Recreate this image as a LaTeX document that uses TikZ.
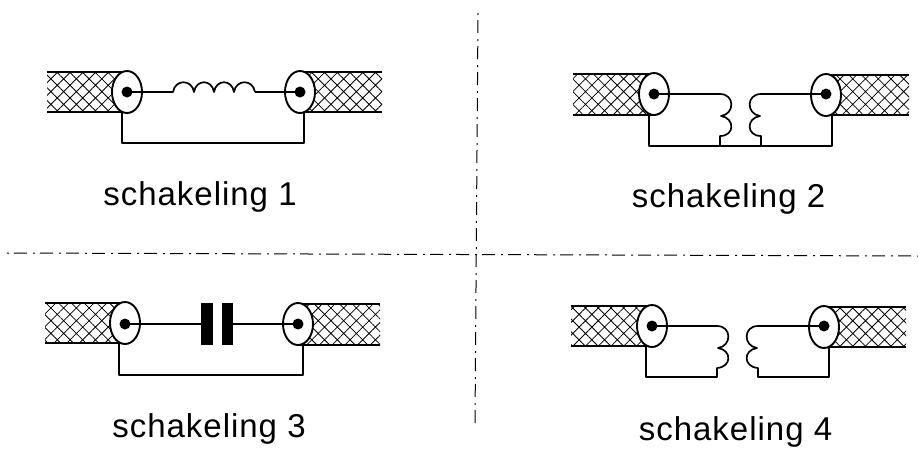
\documentclass[tikz,border=0pt]{standalone}
\usepackage{fontspec}
\setmainfont[LetterSpace=3]{Liberation Sans}
\usetikzlibrary{shapes.geometric}
\usetikzlibrary{patterns.meta}
\tikzset{
  wire/.style={line width=1.7pt, line join=round},
  braid/.style={pattern={Hatch[angle=45,distance=9pt,line width=0.8pt]}},
  jacket/.style={ellipse, draw, fill=white, line width=1.9pt, minimum width=30pt, minimum height=42pt, inner sep=0pt},
  core/.style={circle, fill=black, minimum size=11pt, inner sep=0pt},
  plate/.style={rectangle, fill=black, minimum width=11.5pt, minimum height=42pt, inner sep=0pt},
  caption/.style={anchor=base, font=\fontsize{33}{38}\selectfont},
  divider/.style={line width=1pt, dash pattern=on 2pt off 5pt on 13pt off 6pt}
}
\begin{document}
\begin{tikzpicture}[x=1pt, y=-1pt]
        \useasboundingbox (0,0) rectangle (918,448);

        % Dividers
        \coordinate (top) at (478,13);
        \coordinate (bottom) at (475,424);
        \coordinate (left) at (7,253);
        \coordinate (right) at (918,256);
        \draw[divider] (top) -- (bottom);
        \draw[divider] (left) -- (right);

        % Schakeling 1
        \fill[braid] (47,72) rectangle (127,112);
        \fill[braid] (300,72) rectangle (382,112);
        \draw[wire] (47,72) -- (127,72) (47,112) -- (127,112);
        \draw[wire] (300,72) -- (382,72) (300,112) -- (382,112);
        \node[jacket] (a1) at (127,92) {};
        \node[jacket] (b1) at (300,92) {};
        \node[core] (c1) at (127,92) {};
        \node[core] (d1) at (300,92) {};
        \coordinate (e1) at (122,112.5);
        \coordinate (f1) at (304,112.5);
        \draw[wire] (e1) -- (122,143) -- (304,143) -- (f1);
        \coordinate (g1) at (173,92);
        \coordinate (h1) at (255,92);
        \draw[wire] (c1.center) -- (g1)
            .. controls (175,79) and (192,79) .. (194,92)
            .. controls (196,79) and (212,79) .. (214,92)
            .. controls (216,79) and (232,79) .. (234,92)
            .. controls (236,79) and (253,79) .. (255,92) -- (h1);
        \draw[wire] (h1) -- (d1.center);
        \node[caption] (t1) at (200,205) {schakeling 1};

        % Schakeling 2
        \fill[braid] (573,74) rectangle (654,115);
        \fill[braid] (826,75) rectangle (909,115);
        \draw[wire] (573,74) -- (654,74) (573,115) -- (654,115);
        \draw[wire] (826,75) -- (909,75) (826,115) -- (909,115);
        \node[jacket] (a2) at (654,94) {};
        \node[jacket] (b2) at (826,95) {};
        \node[core] (c2) at (654,94) {};
        \node[core] (d2) at (826,94) {};
        \coordinate (e2) at (649,115);
        \coordinate (f2) at (832,115);
        \coordinate (g2) at (720,94);
        \coordinate (h2) at (761,94);
        \coordinate (m2) at (720,146);
        \coordinate (n2) at (761,146);
        \draw[wire] (e2) -- (649,146) -- (m2) -- (n2) -- (832,146) -- (f2);
        \draw[wire] (c2.center) -- (g2)
            .. controls (735,94) and (735,114) .. (721,116)
            .. controls (735,118) and (735,136) .. (720,136) -- (m2);
        \draw[wire] (d2.center) -- (h2)
            .. controls (746,94) and (746,114) .. (760,116)
            .. controls (746,118) and (746,136) .. (761,136) -- (n2);
        \node[caption] (t2) at (728.5,207) {schakeling 2};

        % Schakeling 3
        \fill[braid] (45,303) rectangle (125,343);
        \fill[braid] (298,304) rectangle (380,345);
        \draw[wire] (45,303) -- (125,303) (45,343) -- (125,343);
        \draw[wire] (298,304) -- (380,304) (298,345) -- (380,345);
        \node[jacket] (a3) at (125,323) {};
        \node[jacket] (b3) at (298,324) {};
        \node[core] (c3) at (125,324) {};
        \node[core] (d3) at (298,324) {};
        \coordinate (e3) at (119,343);
        \coordinate (f3) at (303,344);
        \draw[wire] (e3) -- (119,375) -- (303,375) -- (f3);
        \node[plate] (p3) at (207,324) {};
        \node[plate] (q3) at (227.5,324) {};
        \draw[wire] (c3.center) -- (p3);
        \draw[wire] (q3) -- (d3.center);
        \node[caption] (t3) at (209,437) {schakeling 3};

        % Schakeling 4
        \fill[braid] (571,306) rectangle (652,346);
        \fill[braid] (824,307) rectangle (906,347);
        \draw[wire] (571,306) -- (652,306) (571,346) -- (652,346);
        \draw[wire] (824,307) -- (906,307) (824,347) -- (906,347);
        \node[jacket] (a4) at (652,326) {};
        \node[jacket] (b4) at (824,327) {};
        \node[core] (c4) at (652,326) {};
        \node[core] (d4) at (824,326) {};
        \coordinate (e4) at (646,346);
        \coordinate (f4) at (829,347);
        \coordinate (g4) at (717,326);
        \coordinate (h4) at (758,326);
        \draw[wire] (c4.center) -- (g4)
            .. controls (732,326) and (732,346) .. (718,348)
            .. controls (732,350) and (732,367) .. (717,368) -- (717,377) -- (646,377) -- (e4);
        \draw[wire] (d4.center) -- (h4)
            .. controls (743,326) and (743,346) .. (757,348)
            .. controls (743,350) and (743,367) .. (758,368) -- (758,377) -- (829,377) -- (f4);
        \node[caption] (t4) at (735.5,440) {schakeling 4};
\end{tikzpicture}
\end{document}
